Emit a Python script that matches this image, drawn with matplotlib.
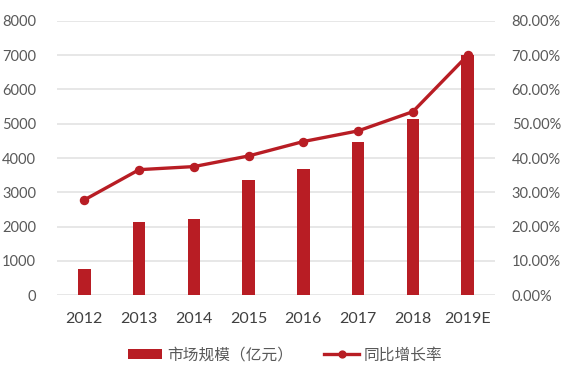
import matplotlib
matplotlib.use("Agg")
import matplotlib.pyplot as plt
from matplotlib.ticker import FuncFormatter

plt.rcParams['font.family'] = ['Lato', 'Noto Sans CJK SC', 'DejaVu Sans']

years = ['2012', '2013', '2014', '2015', '2016', '2017', '2018', '2019E']
market_size = [775, 2146, 2233, 3370, 3691, 4478, 5140, 7006]
growth_rate = [27.8, 36.6, 37.5, 40.6, 44.8, 47.9, 53.5, 69.9]

red = '#B81D24'
gray_text = '#595959'
grid_color = '#E3E3E3'

fig = plt.figure(figsize=(5.71, 3.69), dpi=100)
ax = fig.add_axes([57/571, 1-295.3/369, 438/571, (295.3-20.7)/369])
x = list(range(len(years)))
bars = ax.bar(x, market_size, width=0.23, color=red, zorder=2, label='市场规模（亿元）')
ax.set_ylim(0, 8000)
ax.set_xlim(-0.5, len(years)-0.5)
ax.set_yticks(range(0, 8001, 1000))
ax.yaxis.grid(True, color=grid_color, linewidth=1.2, zorder=0)
ax.set_axisbelow(True)
for s in ax.spines.values():
    s.set_visible(False)
ax.set_xticks(x)
ax.set_xticklabels(years)
ax.tick_params(axis='both', length=0, labelcolor=gray_text, labelsize=10.5)
ax.tick_params(axis='x', pad=12, labelcolor='#404040', labelsize=11.5)
ax.tick_params(axis='y', pad=15)

ax2 = ax.twinx()
line, = ax2.plot(x, growth_rate, color=red, linewidth=2.4, marker='o', markersize=5.8, zorder=3, label='同比增长率')
ax2.set_ylim(0, 80)
ax2.set_yticks(range(0, 81, 10))
ax2.yaxis.set_major_formatter(FuncFormatter(lambda v, p: f'{v:.2f}%'))
for s in ax2.spines.values():
    s.set_visible(False)
ax2.tick_params(axis='y', length=0, labelcolor=gray_text, labelsize=10.5, pad=12)

leg = fig.legend([bars, line], ['市场规模（亿元）', '同比增长率'], loc='center',
           bbox_to_anchor=(285/571, 1-355/369), ncol=2, frameon=False,
           prop={'family': ['Noto Sans CJK SC'], 'size': 11.3}, labelcolor=gray_text,
           handlelength=2.2, handleheight=0.6, columnspacing=2.0, handletextpad=0.3,
           markerscale=0.85)

fig.savefig('out.png', dpi=100)
